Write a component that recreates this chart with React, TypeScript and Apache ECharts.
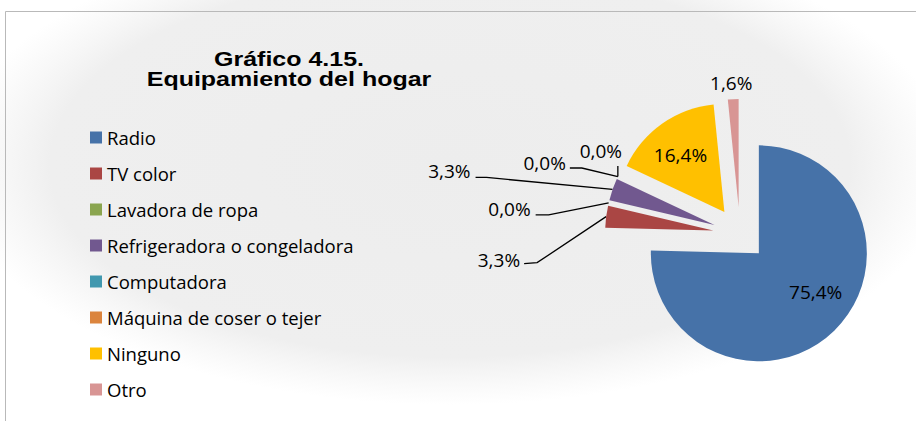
import React, { useEffect, useRef } from 'react';
import * as echarts from 'echarts';

// ---- data ----
const categories = [
  'Radio',
  'TV color',
  'Lavadora de ropa',
  'Refrigeradora o congeladora',
  'Computadora',
  'Máquina de coser o tejer',
  'Ninguno',
  'Otro',
];
const shares = [75.4, 3.3, 0.0, 3.3, 0.0, 0.0, 16.4, 1.6];
const colors = ['#4672a8', '#aa4644', '#8aa54f', '#71588f', '#4198af', '#db843d', '#ffc000', '#d89594'];
const titleLines = ['Gráfico 4.15.', 'Equipamiento del hogar'];

// ---- layout / style ----
const CENTER = [740, 234];
const RADIUS = 108;
const EXPLODE = 27;

type Place = {
  inside?: boolean;
  sx?: number;
  sy?: number;
  elbow?: number[] | null;
  end?: number[];
  text?: number[];
  align?: string;
  hideLine?: boolean;
};
// offsets relative to the library-computed anchor of each label
const labelPlaces: Place[] = [
  { inside: true, sx: 17, sy: -2 },
  { elbow: [-69, 46], end: [-82, 47], text: [-4, -4], align: 'right' },
  { elbow: [-60, 12], end: [-73, 12], text: [-5, -6], align: 'right' },
  { elbow: [-126, -12], end: [-137, -12], text: [-5, -6], align: 'right' },
  { elbow: [-36, -8.5], end: [-48, -8.5], text: [-4, -5], align: 'right' },
  { elbow: null, end: [0, -10.5], text: [-17, -15], align: 'center' },
  { inside: true, sx: -11, sy: -10 },
  { elbow: null, end: [0, 0], text: [-2, -16], align: 'center', hideLine: true },
];

const fmt = (v: number) => v.toFixed(1).replace('.', ',') + '%';

export default function App() {
  const ref = useRef<HTMLDivElement>(null);
  useEffect(() => {
    if (!ref.current) return;
    const chart = echarts.init(ref.current, undefined, { renderer: 'svg' });

    const total = shares.reduce((a, b) => a + b, 0);
    let acc = 0;
    const mids = shares.map((v) => {
      const m = ((acc + v / 2) / total) * 2 * Math.PI;
      acc += v;
      return m;
    });

    const series = categories.map((_, k) => {
      const place = labelPlaces[k];
      return {
        type: 'pie',
        id: 'slice' + k,
        center: [CENTER[0] + EXPLODE * Math.sin(mids[k]), CENTER[1] - EXPLODE * Math.cos(mids[k])],
        radius: RADIUS,
        startAngle: 90,
        clockwise: true,
        avoidLabelOverlap: false,
        silent: true,
        emphasis: { disabled: true },
        label: { show: false },
        labelLine: { show: false },
        data: categories.map((name, i) => ({
          name,
          value: shares[i],
          itemStyle: {
            color: i === k ? colors[i] : 'rgba(0,0,0,0)',
            borderWidth: 0,
          },
          label: {
            show: i === k,
            position: place.inside ? 'inside' : 'outside',
            formatter: (p: any) => fmt(p.value),
            fontFamily: 'Open Sans',
            fontSize: 19,
            color: '#000',
          },
          labelLine: {
            show: i === k && !place.inside,
            length: 10,
            length2: 10,
            lineStyle: { color: '#000', width: 1.3, opacity: place.hideLine ? 0 : 1 },
          },
        })),
        labelLayout: (p: any) => {
          if (p.dataIndex !== k) return {};
          if (place.inside) {
            const r = p.labelRect;
            return {
              x: r.x + r.width / 2 + (place.sx || 0),
              y: r.y + r.height / 2 + (place.sy || 0),
              align: 'center',
              verticalAlign: 'middle',
            };
          }
          const pts = p.labelLinePoints;
          if (!pts || !pts.length) return {};
          const p0 = pts[0];
          const end = [p0[0] + place.end![0], p0[1] + place.end![1]];
          const line = place.elbow
            ? [p0, [p0[0] + place.elbow[0], p0[1] + place.elbow[1]], end]
            : [p0, end];
          return {
            x: end[0] + place.text![0],
            y: end[1] + place.text![1],
            align: place.align,
            verticalAlign: 'middle',
            labelLinePoints: line,
          };
        },
      };
    });

    const watermark = new echarts.graphic.RadialGradient(0.5, 0.5, 0.5, [
      { offset: 0, color: '#ededed' },
      { offset: 0.8, color: '#efefef' },
      { offset: 1, color: 'rgba(242,242,242,0)' },
    ]);

    chart.setOption({
      animation: false,
      backgroundColor: '#ffffff',
      graphic: [
        {
          type: 'ellipse',
          z: -10,
          shape: { cx: 450, cy: 165, rx: 500, ry: 240 },
          style: { fill: watermark },
          silent: true,
        },
        {
          type: 'polyline',
          z: -5,
          shape: { points: [[5.5, 421], [5.5, 11.5], [916, 11.5]] },
          style: { stroke: '#b9b9b9', lineWidth: 1, fill: 'none' },
          silent: true,
        },
        ...titleLines.map((t, i) => ({
          type: 'text',
          x: 289,
          y: 50.3 + i * 20,
          scaleX: 1.25,
          style: {
            text: t,
            font: 'bold 20px "Liberation Sans"',
            fill: '#000',
            textAlign: 'center',
            textVerticalAlign: 'top',
            lineHeight: 19,
          },
        })),
      ],
      legend: {
        orient: 'vertical',
        left: 90,
        top: 127.5,
        padding: 0,
        itemWidth: 12,
        itemHeight: 12,
        itemGap: 16,
        icon: 'rect',
        selectedMode: false,
        data: categories.map((name, i) => ({
          name,
          itemStyle: { color: colors[i], borderWidth: 0 },
        })),
        textStyle: { fontFamily: 'Open Sans', fontSize: 18.5, color: '#000', lineHeight: 20 },
      },
      series,
    });

    return () => chart.dispose();
  }, []);

  return (
    <div
      ref={ref}
      style={{ position: 'absolute', left: 0, top: 0, width: 916, height: 421 }}
    />
  );
}
